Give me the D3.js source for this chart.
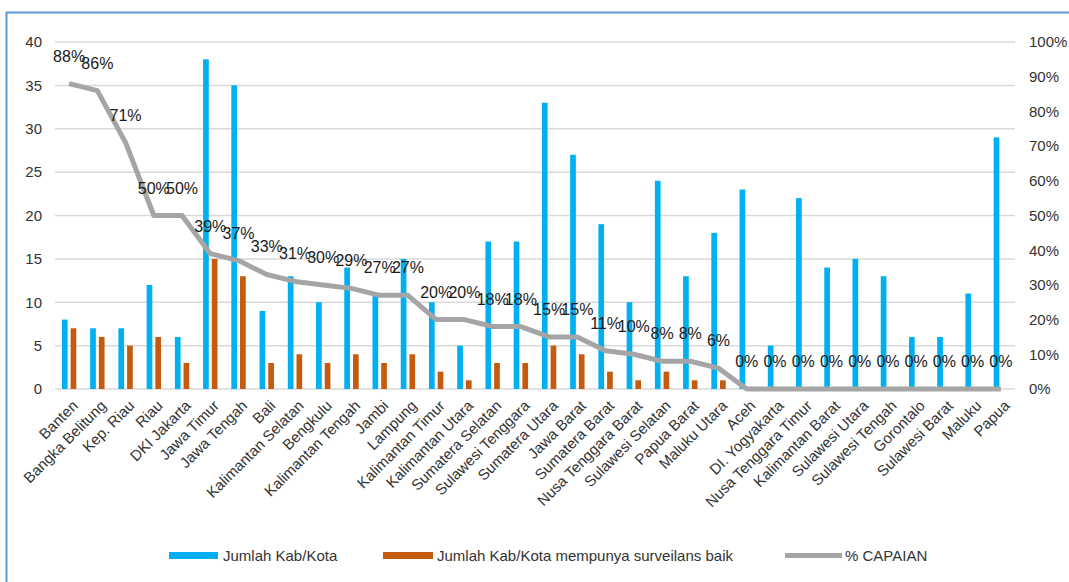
<!DOCTYPE html>
<html>
<head>
<meta charset="utf-8">
<script src="https://cdn.jsdelivr.net/npm/d3@7/dist/d3.min.js"></script>
<style>
  html, body { margin: 0; padding: 0; background: #fff; }
  svg { display: block; font-family: "Liberation Sans", Arial, sans-serif; }
</style>
</head>
<body>
<svg id="chart" width="1069" height="582"></svg>
<script>
// Provinces, ordered by achievement
const provinces = [
  "Banten", "Bangka Belitung", "Kep. Riau", "Riau", "DKI Jakarta", "Jawa Timur",
  "Jawa Tengah", "Bali", "Kalimantan Selatan", "Bengkulu", "Kalimantan Tengah",
  "Jambi", "Lampung", "Kalimantan Timur", "Kalimantan Utara", "Sumatera Selatan",
  "Sulawesi Tenggara", "Sumatera Utara", "Jawa Barat", "Sumatera Barat",
  "Nusa Tenggara Barat", "Sulawesi Selatan", "Papua Barat", "Maluku Utara", "Aceh",
  "DI. Yogyakarta", "Nusa Tenggara Timur", "Kalimantan Barat", "Sulawesi Utara",
  "Sulawesi Tengah", "Gorontalo", "Sulawesi Barat", "Maluku", "Papua"
];
// Number of districts/cities per province
const jumlahKabKota = [
  8, 7, 7, 12, 6, 38, 35, 9, 13, 10, 14, 11, 15, 10, 5, 17, 17, 33, 27, 19,
  10, 24, 13, 18, 23, 5, 22, 14, 15, 13, 6, 6, 11, 29
];
// Districts/cities with good surveillance
const kabKotaSurveilansBaik = [
  7, 6, 5, 6, 3, 15, 13, 3, 4, 3, 4, 3, 4, 2, 1, 3, 3, 5, 4, 2,
  1, 2, 1, 1, 0, 0, 0, 0, 0, 0, 0, 0, 0, 0
];
// Achievement (%)
const capaian = [
  88, 86, 71, 50, 50, 39, 37, 33, 31, 30, 29, 27, 27, 20, 20, 18, 18, 15, 15, 11,
  10, 8, 8, 6, 0, 0, 0, 0, 0, 0, 0, 0, 0, 0
];
const leftTicks = [0, 5, 10, 15, 20, 25, 30, 35, 40];
const rightTicks = [0, 0.1, 0.2, 0.3, 0.4, 0.5, 0.6, 0.7, 0.8, 0.9, 1.0];

const svg = d3.select("#chart");
const textColor = "#333333";
const blue = "#00B0F0", orange = "#C55A11", grey = "#A5A5A5";

const x = d3.scaleBand().domain(provinces).range([55, 1015]).padding(0);
const y = d3.scaleLinear().domain([0, 40]).range([389, 42]);
const y2 = d3.scaleLinear().domain([0, 1]).range([389, 42]);

// Frame
svg.append("path")
  .attr("d", "M6.5,590 L6.5,12.5 L1080,12.5")
  .attr("fill", "none").attr("stroke", "#5B9BD5").attr("stroke-width", 2);

// Gridlines
svg.append("g").selectAll("line").data(leftTicks).join("line")
  .attr("x1", 55).attr("x2", 1015)
  .attr("y1", d => y(d)).attr("y2", d => y(d))
  .attr("stroke", "#D9D9D9").attr("stroke-width", 1.5);

// Left axis
const leftAxis = svg.append("g").attr("transform", "translate(42,0)")
  .call(d3.axisLeft(y).tickValues(leftTicks).tickSize(0).tickPadding(0));
leftAxis.select(".domain").remove();
leftAxis.selectAll("text").attr("font-size", 15).attr("fill", textColor)
  .attr("font-family", "Liberation Sans, Arial, sans-serif");

// Right axis
const rightAxis = svg.append("g").attr("transform", "translate(1029,0)")
  .call(d3.axisRight(y2).tickValues(rightTicks).tickFormat(d3.format(".0%")).tickSize(0).tickPadding(0));
rightAxis.select(".domain").remove();
rightAxis.selectAll("text").attr("font-size", 15).attr("fill", textColor)
  .attr("font-family", "Liberation Sans, Arial, sans-serif");

// Bars
const bw = 5.7;
const cx = d => x(d) + x.bandwidth() / 2;
svg.append("g").selectAll("rect").data(provinces).join("rect")
  .attr("x", (d) => cx(d) - 7.2)
  .attr("width", bw)
  .attr("y", (d, i) => y(jumlahKabKota[i]))
  .attr("height", (d, i) => y(0) - y(jumlahKabKota[i]))
  .attr("fill", blue);
svg.append("g").selectAll("rect").data(provinces).join("rect")
  .attr("x", (d) => cx(d) + 1.5)
  .attr("width", bw)
  .attr("y", (d, i) => y(kabKotaSurveilansBaik[i]))
  .attr("height", (d, i) => y(0) - y(kabKotaSurveilansBaik[i]))
  .attr("fill", orange);

// Achievement line
const line = d3.line()
  .x((d, i) => cx(provinces[i]))
  .y(d => y2(d / 100));
svg.append("path").datum(capaian)
  .attr("d", line)
  .attr("fill", "none").attr("stroke", grey)
  .attr("stroke-width", 5).attr("stroke-linejoin", "round");

// Achievement labels
svg.append("g").selectAll("text").data(capaian).join("text")
  .attr("x", (d, i) => cx(provinces[i]))
  .attr("y", d => y2(d / 100) - 22)
  .attr("text-anchor", "middle")
  .attr("font-size", 16).attr("fill", "#1a1a1a")
  .text(d => d + "%");

// Category labels
svg.append("g").selectAll("text").data(provinces).join("text")
  .attr("transform", d => `translate(${cx(d) + 6},${403}) rotate(-45)`)
  .attr("text-anchor", "end")
  .attr("dy", "0.35em")
  .attr("font-size", 15).attr("fill", textColor)
  .text(d => d);

// Legend
const legend = svg.append("g").attr("font-size", 15).attr("fill", textColor);
legend.append("rect").attr("x", 169).attr("y", 552).attr("width", 49).attr("height", 7).attr("fill", blue);
legend.append("text").attr("x", 223).attr("y", 561).text("Jumlah Kab/Kota");
legend.append("rect").attr("x", 383).attr("y", 552).attr("width", 50).attr("height", 7).attr("fill", orange);
legend.append("text").attr("x", 437).attr("y", 561).text("Jumlah Kab/Kota mempunya surveilans baik");
legend.append("line").attr("x1", 785).attr("x2", 842).attr("y1", 555.5).attr("y2", 555.5)
  .attr("stroke", grey).attr("stroke-width", 5);
legend.append("text").attr("x", 845).attr("y", 561).text("% CAPAIAN");
</script>
</body>
</html>
